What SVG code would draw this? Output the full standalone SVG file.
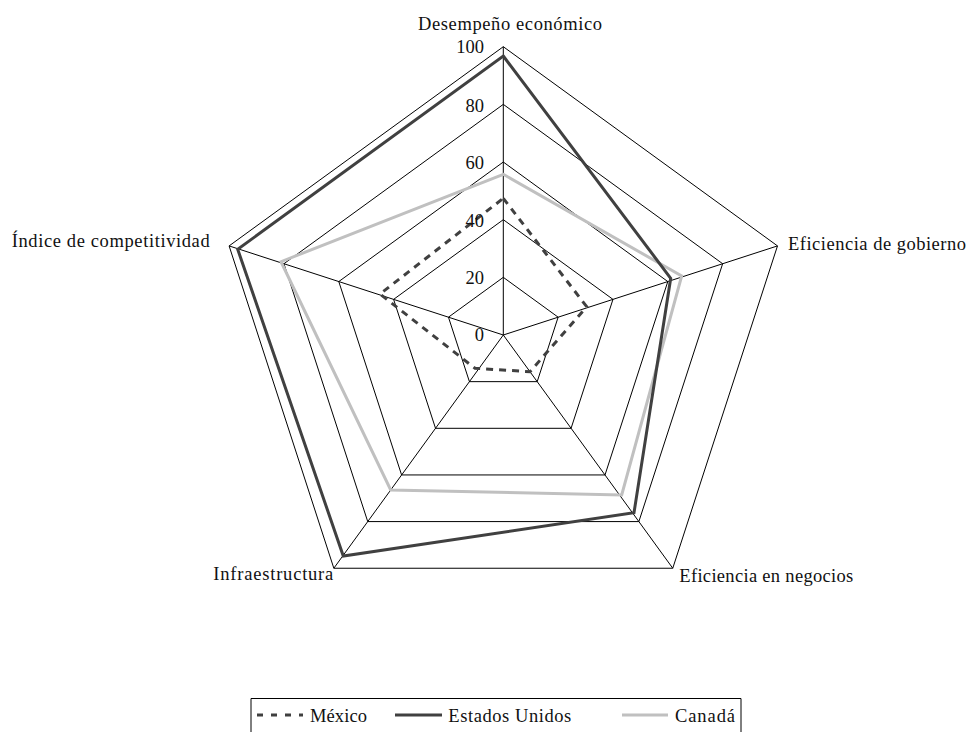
<svg xmlns="http://www.w3.org/2000/svg" width="969" height="732" viewBox="0 0 969 732">
<style>
text{font-family:"Liberation Serif","Times New Roman",serif;font-size:18.5px;fill:#111}
.grid{fill:none;stroke:#000;stroke-width:1}
.us{fill:none;stroke:#404040;stroke-width:3;stroke-linejoin:miter}
.ca{fill:none;stroke:#c0c0c0;stroke-width:3;stroke-linejoin:miter}
.mx{fill:none;stroke:#404040;stroke-width:3;stroke-dasharray:7,6}
.tick{text-anchor:end}
</style>
<rect width="969" height="732" fill="#fff"/>
<g id="grid">
<polygon class="grid" points="503.3,277.34 558.14,317.18 537.19,381.65 469.41,381.65 448.46,317.18"/>
<polygon class="grid" points="503.3,219.68 612.98,299.36 571.08,428.3 435.52,428.3 393.62,299.36"/>
<polygon class="grid" points="503.3,162.02 667.81,281.55 605,474.94 401.6,474.94 338.79,281.55"/>
<polygon class="grid" points="503.3,104.36 722.65,263.73 638.87,521.59 367.73,521.59 283.95,263.73"/>
<polygon class="grid" points="503.3,46.7 777.49,245.91 672.76,568.24 333.84,568.24 229.11,245.91"/>
</g>
<g id="connectors">
<line class="grid" x1="503.3" y1="335" x2="503.3" y2="46.7"/>
<line class="grid" x1="503.3" y1="335" x2="777.49" y2="245.91"/>
<line class="grid" x1="503.3" y1="335" x2="672.76" y2="568.24"/>
<line class="grid" x1="503.3" y1="335" x2="333.84" y2="568.24"/>
<line class="grid" x1="503.3" y1="335" x2="229.11" y2="245.91"/>
</g>
<g id="series-canada"><polygon class="ca" points="503.3,174.3 681.7,276 621.7,495 390.7,490 281,261.7"/></g>
<g id="series-us"><polygon class="us" points="503.3,56 670.7,278.3 634,512.7 343.3,556 237.7,249.3"/></g>
<g id="series-mexico"><polygon class="mx" points="503.3,198.3 586.7,306.7 530,371.7 475,368.3 380,294"/></g>
<g id="ticks">
<text class="tick" x="484" y="53">100</text>
<text class="tick" x="484" y="111.5">80</text>
<text class="tick" x="484" y="168.5">60</text>
<text class="tick" x="484" y="226.5">40</text>
<text class="tick" x="484" y="284">20</text>
<text class="tick" x="484" y="341">0</text>
</g>
<g id="axis-labels">
<text x="418" y="30" textLength="184">Desempeño económico</text>
<text x="788" y="250" textLength="178">Eficiencia de gobierno</text>
<text x="679.3" y="582" textLength="174">Eficiencia en negocios</text>
<text x="213.3" y="580" textLength="120">Infraestructura</text>
<text x="11.7" y="246.7" textLength="198">Índice de competitividad</text>
</g>
<g id="legend">
<polyline fill="none" stroke="#000" stroke-width="1" points="251,733 251,698.5 741,698.5 741,733"/>
<line class="mx" x1="257" y1="715" x2="303" y2="715" style="stroke-dasharray:6,8"/>
<text x="310" y="722" textLength="57">México</text>
<line class="us" x1="395" y1="715" x2="442" y2="715"/>
<text x="448.3" y="722" textLength="123">Estados Unidos</text>
<line class="ca" x1="622" y1="715" x2="668" y2="715"/>
<text x="675" y="722" textLength="60">Canadá</text>
</g>
</svg>
